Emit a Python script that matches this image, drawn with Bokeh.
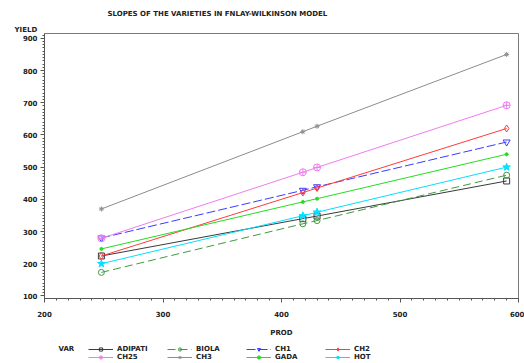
from bokeh.plotting import figure
from bokeh.models import Range1d, SingleIntervalTicker, Legend, LegendItem, Title, Label
from bokeh.layouts import column
from bokeh.embed import file_html
from bokeh.resources import INLINE

# ---- data ----
prod = [248, 418, 430, 590]
varieties = ["ADIPATI", "BIOLA", "CH1", "CH2", "CH25", "CH3", "GADA", "HOT"]
adipati = [224, 340, 348, 457]
biola = [173, 324, 334, 475]
ch1 = [280, 428, 439, 578]
ch2 = [224, 421, 435, 620]
ch25 = [279, 484, 499, 692]
ch3 = [370, 610, 627, 850]
gada = [246, 392, 402, 540]
hot = [200, 349, 360, 500]
series = [adipati, biola, ch1, ch2, ch25, ch3, gada, hot]

title_text = "SLOPES OF THE VARIETIES IN FNLAY-WILKINSON MODEL"
x_label = "PROD"
y_label = "YIELD"
legend_title = "VAR"

# ---- styles ----
styles = {
    "ADIPATI": dict(color="#3a3a3a", dash="solid", marker="square", size=6, fill=None),
    "BIOLA": dict(color="#3f9a3f", dash="8 4", marker="circle", size=6, fill=None),
    "CH1": dict(color="#3b3bff", dash="9 3", marker="inverted_triangle", size=7, fill=None),
    "CH2": dict(color="#ff3b3b", dash="solid", marker="diamond", size=7, fill=None),
    "CH25": dict(color="#f07cf0", dash="solid", marker="circle_cross", size=7, fill=None),
    "CH3": dict(color="#8c8c8c", dash="solid", marker="asterisk", size=5, fill=None),
    "GADA": dict(color="#22dd22", dash="solid", marker="circle", size=3, fill="#22dd22"),
    "HOT": dict(color="#00e0ff", dash="solid", marker="star", size=8, fill="#00e0ff"),
}

FONT = "DejaVu Sans"
TXT = "#222222"


def draw_series(fig):
    out = []
    for name, ys in zip(varieties, series):
        st = styles[name]
        r1 = fig.line(prod, ys, line_color=st["color"], line_width=1, line_dash=st["dash"])
        kw = dict(marker=st["marker"], size=st["size"], line_color=st["color"], line_width=1)
        if st["fill"] is None:
            kw["fill_alpha"] = 0
        else:
            kw["fill_color"] = st["fill"]
        r2 = fig.scatter(prod, ys, **kw)
        out.append((name, r1, r2))
    return out


# ---- main chart ----
p = figure(frame_width=474, frame_height=265, output_backend="svg", toolbar_location=None,
           x_range=Range1d(200, 600), y_range=Range1d(92, 915),
           min_border_left=44, min_border_right=6, min_border_top=33, min_border_bottom=38,
           title=None)
p.xgrid.visible = False
p.ygrid.visible = False
p.outline_line_color = "#7a7a7a"
p.outline_line_width = 1
p.background_fill_color = "white"
p.border_fill_color = "white"

p.xaxis.ticker = SingleIntervalTicker(interval=100, num_minor_ticks=10)
p.yaxis.ticker = SingleIntervalTicker(interval=100, num_minor_ticks=10)
for ax in (p.xaxis[0], p.yaxis[0]):
    ax.axis_line_color = "#555555"
    ax.major_tick_line_color = "#555555"
    ax.minor_tick_line_color = "#555555"
    ax.major_tick_out = 4
    ax.major_tick_in = 0
    ax.minor_tick_out = 2
    ax.minor_tick_in = 0
    ax.major_label_text_font = FONT
    ax.major_label_text_font_style = "bold"
    ax.major_label_text_font_size = "7px"
    ax.major_label_text_color = TXT
p.xaxis.major_label_standoff = 8
p.yaxis.major_label_standoff = 3
p.xaxis.axis_label = x_label
p.xaxis.axis_label_text_font = FONT
p.xaxis.axis_label_text_font_style = "bold"
p.xaxis.axis_label_text_font_size = "7px"
p.xaxis.axis_label_text_color = TXT
p.xaxis.axis_label_standoff = 9

draw_series(p)

p.add_layout(Title(text=y_label, align="left", offset=-30, standoff=0,
                   text_font=FONT, text_font_style="bold", text_font_size="7px",
                   text_color=TXT), "above")
p.add_layout(Title(text=title_text, align="left", offset=63, standoff=12,
                   text_font=FONT, text_font_style="bold", text_font_size="7px",
                   text_color=TXT), "above")

# ---- legend strip (same series styles; data lie outside this strip's ranges) ----
lg = figure(width=524, height=27, output_backend="svg", toolbar_location=None,
            x_range=Range1d(0, 1), y_range=Range1d(0, 1),
            x_axis_type=None, y_axis_type=None, title=None,
            min_border_left=0, min_border_right=0, min_border_top=0, min_border_bottom=0)
lg.xgrid.visible = False
lg.ygrid.visible = False
lg.outline_line_color = None
lg.background_fill_color = "white"
lg.border_fill_color = "white"

items = [LegendItem(label=name, renderers=[r1, r2]) for name, r1, r2 in draw_series(lg)]
legend = Legend(items=items, orientation="horizontal", ncols=4,
                location=(44, 5), padding=0, margin=0, spacing=0,
                glyph_width=25, glyph_height=8, label_height=8, label_width=50,
                label_standoff=4, border_line_alpha=0, background_fill_alpha=0,
                label_text_font=FONT, label_text_font_style="bold",
                label_text_font_size="7px", label_text_color=TXT)
lg.add_layout(legend, "center")
lg.add_layout(Label(x=14, y=18, x_units="screen", y_units="screen", text=legend_title,
                    text_font=FONT, text_font_style="bold", text_font_size="7px",
                    text_color=TXT, text_align="left", text_baseline="middle"))

layout = column(p, lg, spacing=0)
open("out.html", "w").write(file_html(layout, INLINE))
